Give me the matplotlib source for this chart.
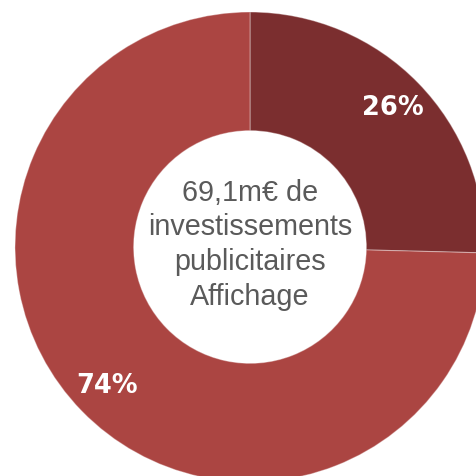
import matplotlib.pyplot as plt

# share of advertising investment (Affichage)
labels = ["26%", "74%"]
values = [25.4, 74.6]
colors = ["#7B2E2F", "#AB4542"]
center_text = "69,1m€ de\ninvestissements\npublicitaires\nAffichage"

fig = plt.figure(figsize=(4.76, 4.76), dpi=100)
ax = fig.add_axes([0, 0, 1, 1])

r_px = 235.0
ax.pie(values, colors=colors, startangle=90, counterclock=False, radius=1,
       wedgeprops=dict(width=0.505, edgecolor=(1, 1, 1, 0.35), linewidth=0.8),
       labels=labels, labeldistance=0.85,
       textprops=dict(color="white", fontsize=18.5, fontweight="bold",
                      family="DejaVu Sans", ha="center", va="center"))

ax.text(0, 0.01, center_text, ha="center", va="center", color="#5A5A5A",
        fontsize=20.7, family="Liberation Sans", linespacing=1.3)

ax.set_xlim(-250 / r_px, 226 / r_px)
ax.set_ylim(-229 / r_px, 247 / r_px)
ax.set_aspect("auto")
ax.axis("off")

plt.savefig("out.png", dpi=100)
